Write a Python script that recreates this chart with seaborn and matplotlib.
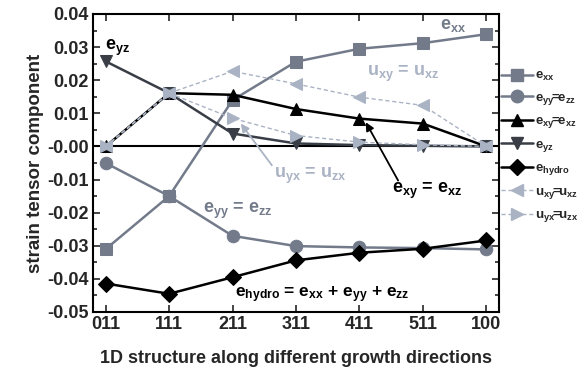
import matplotlib
matplotlib.use("Agg")
import matplotlib.pyplot as plt
import seaborn as sns
import pandas as pd
from matplotlib.ticker import MultipleLocator
from matplotlib.lines import Line2D

sns.set_theme(style="ticks")
plt.rcParams['font.family'] = ['Liberation Sans', 'DejaVu Sans']
plt.rcParams['font.weight'] = 'bold'
plt.rcParams['mathtext.fontset'] = 'custom'
plt.rcParams['mathtext.rm'] = 'Liberation Sans:bold'
plt.rcParams['mathtext.bf'] = 'Liberation Sans:bold'
plt.rcParams['mathtext.it'] = 'Liberation Sans:bold'

directions = ["011", "111", "211", "311", "411", "511", "100"]
e_xx = [-0.031, -0.015, 0.014, 0.0256, 0.0295, 0.0312, 0.0339]
e_yy = [-0.005, -0.015, -0.027, -0.0301, -0.0305, -0.0307, -0.0311]
e_xy = [0.0, 0.0161, 0.0156, 0.0113, 0.0084, 0.0069, 0.0]
e_yz = [0.0257, 0.0161, 0.0039, 0.0009, 0.0004, 0.0002, 0.0]
e_hydro = [-0.0414, -0.0445, -0.0395, -0.0344, -0.0321, -0.0309, -0.0284]
u_xy = [0.0, 0.0161, 0.0227, 0.0189, 0.0149, 0.0124, 0.0]
u_yx = [0.0, 0.0161, 0.0085, 0.0033, 0.0013, 0.0005, 0.0]

C_GRAY = "#737b8b"
C_DARK = "#383d46"
C_LIGHT = "#aab3c4"

series = [
    (r"$\mathrm{e}_{\mathrm{xx}}$", e_xx, C_GRAY, "s", "-", 1.8),
    (r"$\mathrm{e}_{\mathrm{yy}}\!\!=\!\!\mathrm{e}_{\mathrm{zz}}$", e_yy, C_GRAY, "o", "-", 1.8),
    (r"$\mathrm{e}_{\mathrm{xy}}\!\!=\!\!\mathrm{e}_{\mathrm{xz}}$", e_xy, "black", "^", "-", 1.8),
    (r"$\mathrm{e}_{\mathrm{yz}}$", e_yz, C_DARK, "v", "-", 1.8),
    (r"$\mathrm{e}_{\mathrm{hydro}}$", e_hydro, "black", "D", "-", 1.8),
    (r"$\mathrm{u}_{\mathrm{xy}}\!\!=\!\!\mathrm{u}_{\mathrm{xz}}$", u_xy, C_LIGHT, "<", (0, (3, 2)), 1.0),
    (r"$\mathrm{u}_{\mathrm{yx}}\!\!=\!\!\mathrm{u}_{\mathrm{zx}}$", u_yx, C_LIGHT, ">", (0, (3, 2)), 1.0),
]

fig = plt.figure(figsize=(5.81, 3.72), dpi=100)
ax = fig.add_axes([93/581, 1-312/372, (499-93)/581, (312-14)/372])

ax.axhline(0, color="black", lw=1.5, zorder=1)

handles = []
for label, vals, col, mk, ls, lw in series:
    df = pd.DataFrame({"dir": directions, "val": vals})
    ms = 9 if mk != "D" else 8
    sns.lineplot(data=df, x="dir", y="val", ax=ax, color=col, marker=mk,
                 markersize=ms, markeredgecolor=col, linestyle=ls, lw=lw,
                 sort=False, zorder=3)
    handles.append(Line2D([0], [0], color=col, marker=mk, markersize=ms,
                          markeredgecolor=col, linestyle=ls, lw=lw, label=label))

ax.set_xlim(-0.2, 6.2)
ax.set_ylim(-0.05, 0.04)
ax.yaxis.set_major_locator(MultipleLocator(0.01))
ax.yaxis.set_minor_locator(MultipleLocator(0.005))
ax.yaxis.set_major_formatter(matplotlib.ticker.FormatStrFormatter("%.2f"))
ax.tick_params(axis="both", which="both", direction="in", top=True, right=True,
               labelsize=13, width=1.2, pad=3)
ax.tick_params(axis="both", which="major", length=5)
ax.tick_params(axis="y", which="minor", length=3)
for lbl in ax.get_xticklabels() + ax.get_yticklabels():
    lbl.set_fontweight("bold")
for sp in ax.spines.values():
    sp.set_linewidth(1.5)
    sp.set_visible(True)
    sp.set_color("black")

ax.set_xlabel("1D structure along different growth directions", fontsize=13,
              fontweight="bold", labelpad=12)
ax.set_ylabel("strain tensor component", fontsize=13.5, fontweight="bold", labelpad=2)

# annotations
ax.text(5.48, 0.0356, r"$\mathrm{e}_{\mathrm{xx}}$", color=C_GRAY, fontsize=13, ha="center")
ax.text(0.19, 0.029, r"$\mathrm{e}_{\mathrm{yz}}$", color="black", fontsize=13, ha="center")
ax.text(4.69, 0.0214, r"$\mathrm{u}_{\mathrm{xy}}$ = $\mathrm{u}_{\mathrm{xz}}$", color=C_LIGHT, fontsize=13, ha="center")
ax.text(3.22, -0.0094, r"$\mathrm{u}_{\mathrm{yx}}$ = $\mathrm{u}_{\mathrm{zx}}$", color=C_LIGHT, fontsize=13, ha="center")
ax.annotate("", xy=(2.13, 0.0069), xytext=(2.62, -0.0057),
            arrowprops=dict(arrowstyle="-|>", color=C_LIGHT, lw=1.3, shrinkA=0, shrinkB=0))
ax.text(5.07, -0.0142, r"$\mathrm{e}_{\mathrm{xy}}$ = $\mathrm{e}_{\mathrm{xz}}$", color="black", fontsize=13, ha="center")
ax.annotate("", xy=(4.1, 0.0073), xytext=(4.61, -0.0103),
            arrowprops=dict(arrowstyle="-|>", color="black", lw=1.3, shrinkA=0, shrinkB=0))
ax.text(2.08, -0.020, r"$\mathrm{e}_{\mathrm{yy}}$ = $\mathrm{e}_{\mathrm{zz}}$", color=C_GRAY, fontsize=13, ha="center")
ax.text(3.41, -0.0456, r"$\mathrm{e}_{\mathrm{hydro}}$ = $\mathrm{e}_{\mathrm{xx}}$ + $\mathrm{e}_{\mathrm{yy}}$ + $\mathrm{e}_{\mathrm{zz}}$",
        color="black", fontsize=12.5, ha="center")

leg = fig.legend(handles=handles, loc="upper left", bbox_to_anchor=(501/581, 1-70/372),
                 frameon=False, fontsize=9.5, handlelength=2.4, handletextpad=0.15,
                 labelspacing=0.62, borderaxespad=0, borderpad=0)

fig.savefig("out.png", dpi=100)
